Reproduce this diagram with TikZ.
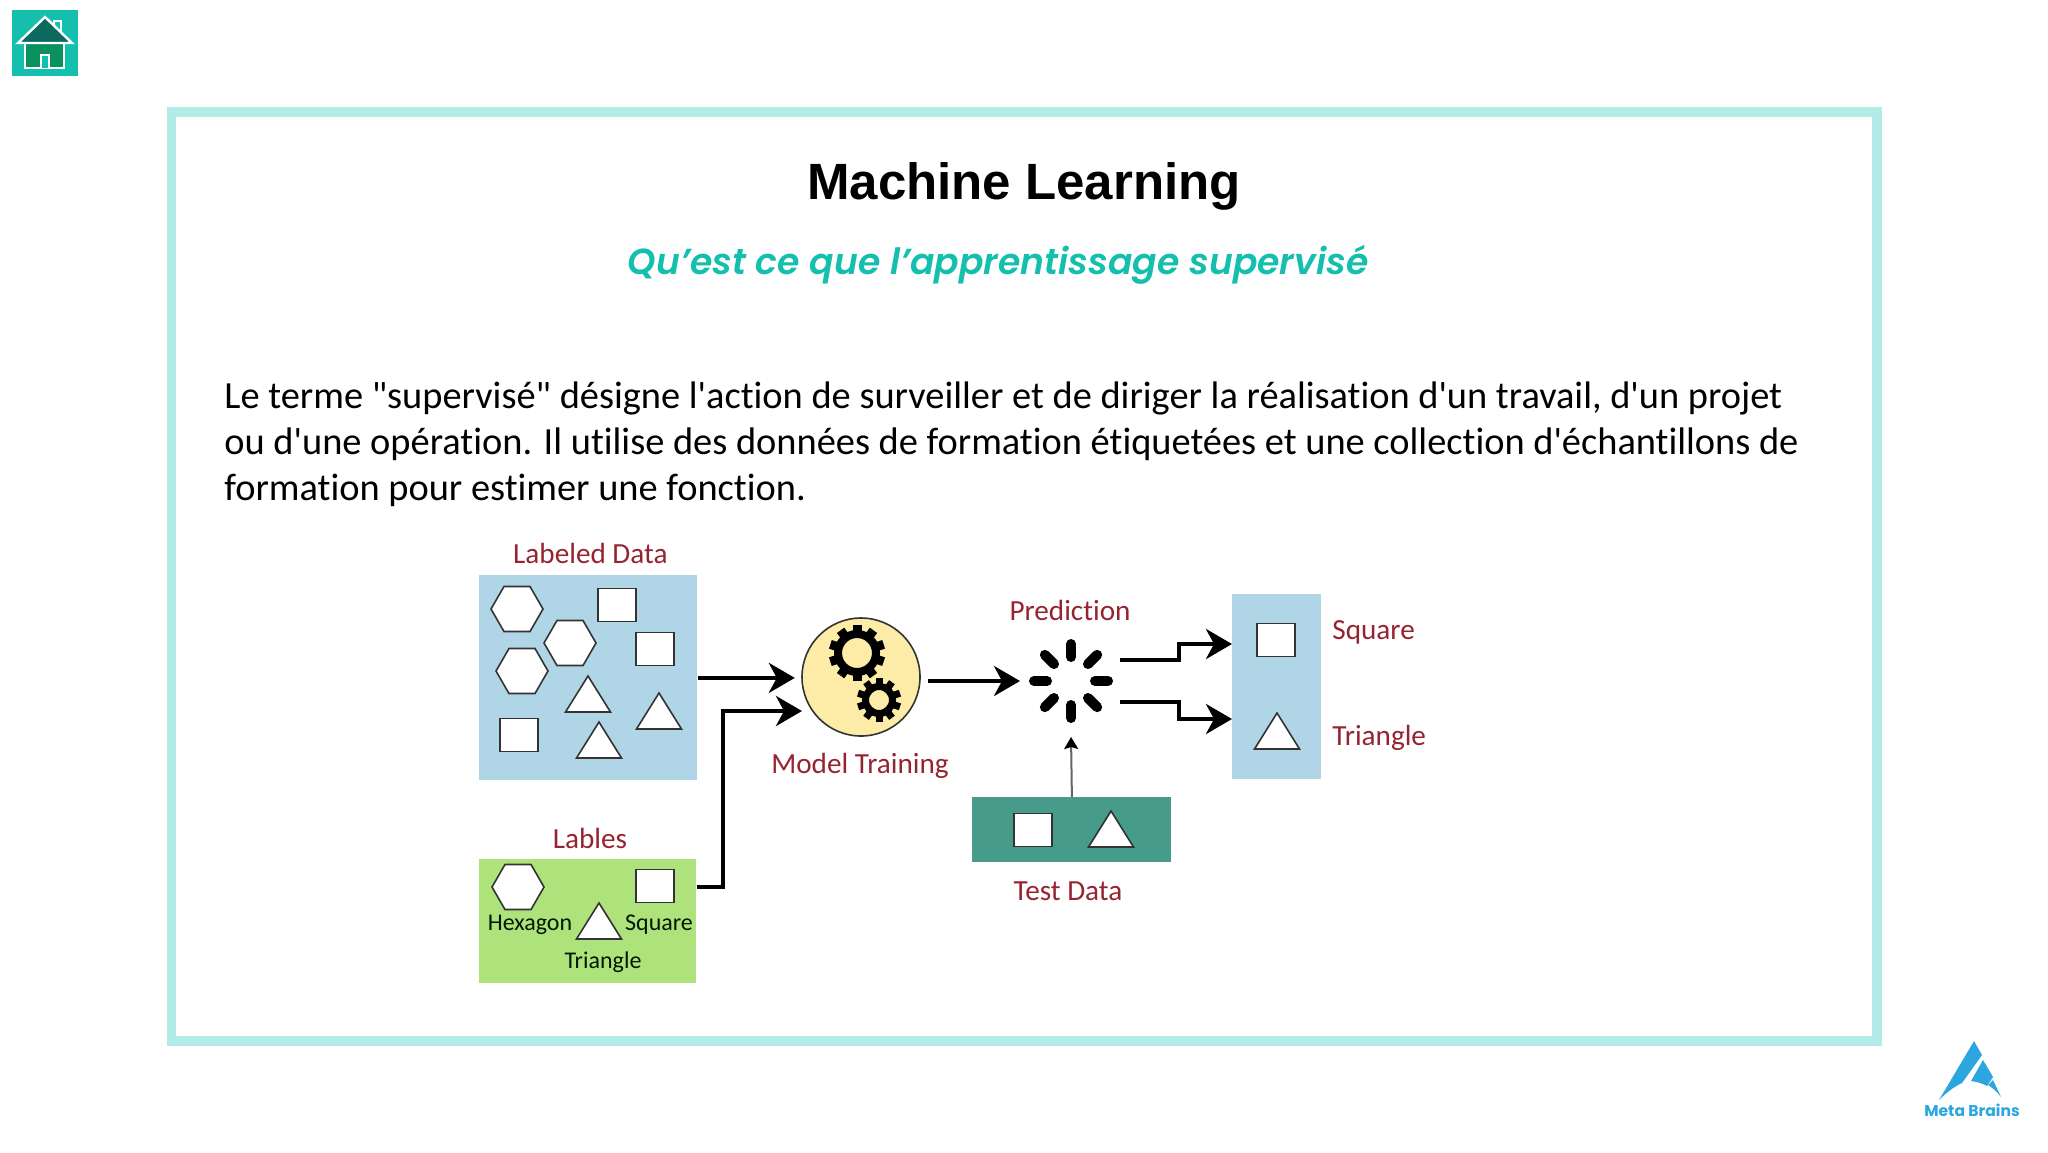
\documentclass[tikz,border=0pt]{standalone}
\usepackage{fontspec}
\setmainfont{Carlito}
\newfontfamily\bodyfont{Carlito}[Ligatures=NoCommon]
\newfontfamily\titlefont{Liberation Sans}
\newfontfamily\subtitlefont{Poppins}[BoldItalicFont={Poppins SemiBold Italic}]
\usetikzlibrary{shapes.geometric,positioning,calc,arrows.meta}
\definecolor{framemint}{HTML}{B2ECE6}
\definecolor{teal}{HTML}{14BFAE}
\definecolor{labelred}{HTML}{952430}
\definecolor{boxblue}{HTML}{B0D5E6}
\definecolor{boxgreen}{HTML}{AEE37C}
\definecolor{boxsea}{HTML}{469B8A}
\definecolor{modelyellow}{HTML}{FDEBA8}
\definecolor{logoblue}{HTML}{2BA6DE}
\tikzset{
  redlabel/.style={text=labelred,font=\bodyfont\fontsize{14.6}{16}\selectfont,inner sep=0pt},
  keylabel/.style={text=black!75!green!40!black,font=\bodyfont\fontsize{12}{14}\selectfont,inner sep=0pt},
  sqshape/.style={draw=black!80,line width=0.8pt,fill=white,minimum width=19pt,minimum height=16.5pt,inner sep=0pt},
  hexshape/.style={draw=black!80,line width=0.8pt,fill=white,regular polygon,regular polygon sides=6,minimum size=26pt,inner sep=0pt},
  trishape/.style={draw=black!80,line width=0.8pt,fill=white,line join=miter},
  databox/.style={inner sep=0pt,anchor=north west},
  flow/.style={line width=2pt,-{Stealth[length=13pt,width=15pt,inset=4pt]}},
}
\begin{document}
\begin{tikzpicture}[x=0.5pt,y=-0.5pt]
\useasboundingbox (0,0) rectangle (2048,1152);
% frame and corner marks
\draw[framemint,line width=4.75pt] (171.5,112) rectangle (1877,1041);
\fill[teal] (12,10) rectangle (78,76);
\draw[white,line width=1pt,fill=black!35!teal!85!green] (25,43) rectangle (64,68);
\draw[white,line width=1pt,fill=teal] (41,68) -- (41,55) -- (49,55) -- (49,68);
\draw[white,line width=1pt,fill=teal] (54,30) -- (54,21) -- (61,21) -- (61,33);
\draw[white,line width=1.2pt,fill=black!45!teal] (18,43) -- (45,17) -- (72,43) -- cycle;
\fill[logoblue] (1974,1041) -- (1982,1055) -- (1962,1083) .. controls (1953,1087) and (1945,1094) .. (1939,1100) -- cycle;
\fill[logoblue] (1983,1060) -- (1993,1077) -- (1987,1086) .. controls (1982,1083) and (1977,1082) .. (1971,1081) -- cycle;
\fill[logoblue] (1993,1080) -- (2001,1097) .. controls (1997,1092) and (1993,1088) .. (1988,1085) -- cycle;
\node[text=logoblue,font=\subtitlefont\bfseries\fontsize{7.8}{10}\selectfont,inner sep=0pt] (brand) at (1972,1110) {Meta Brains};
% heading
\node[font=\titlefont\bfseries\fontsize{25.5}{30}\selectfont,inner sep=0pt] (title) at (1024,186) {Machine Learning};
\node[text=teal,font=\subtitlefont\bfseries\itshape\fontsize{18.1}{22}\selectfont,inner sep=0pt] (subtitle) at (998,265) {Qu’est ce que l’apprentissage supervisé};
\node[anchor=north west,align=left,inner sep=0pt,font=\bodyfont\fontsize{19.2}{23}\selectfont] (body) at (224,381) {Le terme "supervisé" désigne l'action de surveiller et de diriger la réalisation d'un travail, d'un projet\\
ou d'une opération. Il utilise des données de formation étiquetées et une collection d'échantillons de\\
formation pour estimer une fonction.};
% data boxes
\node[databox,fill=boxblue,minimum width=109pt,minimum height=102.5pt] (labeled) at (479,575) {};
\node[databox,fill=boxgreen,minimum width=108.5pt,minimum height=62pt] (lables) at (479,859) {};
\node[databox,fill=boxsea,minimum width=99.5pt,minimum height=32.5pt] (testdata) at (972,797) {};
\node[databox,fill=boxblue,minimum width=44.5pt,minimum height=92.5pt] (result) at (1232,594) {};
\foreach \hx/\hy/\hname in {517/609/a,570/643/b,522/671/c,518/887/d}
  \node[hexshape] (hex\hname) at (\hx,\hy) {};
\foreach \sx/\sy/\sname in {617/605/a,655/649/b,519/735/c,655/886/d,1033/830/e,1276/640/f}
  \node[sqshape] (sq\sname) at (\sx,\sy) {};
\foreach \tx/\ty in {588/676,659/693,599/722,599/903,1111/811,1277/713}
  \draw[trishape] (\tx,\ty) -- ++(22.5,36) -- ++(-45,0) -- cycle;
% labels
\node[redlabel,above=5.5pt of labeled,xshift=1pt] (labeledtxt) {Labeled Data};
\node[redlabel,above=5pt of lables,xshift=1pt] (lablestxt) {Lables};
\node[redlabel] (modeltxt) at (860,766) {Model Training};
\node[redlabel] (predtxt) at (1070,610) {Prediction};
\node[redlabel] (testtxt) at (1068,891) {Test Data};
\node[redlabel,anchor=west] (squaretxt) at (1332,632) {Square};
\node[redlabel,anchor=west] (triangletxt) at (1332,738) {Triangle};
\node[keylabel] (hexagontxt) at (530,925) {Hexagon};
\node[keylabel] (squarekey) at (659,925) {Square};
\node[keylabel] (trianglekey) at (603,962) {Triangle};
% model circle and gears
\node[circle,draw=black!80,line width=0.8pt,fill=modelyellow,minimum size=59pt,inner sep=0pt] (model) at (861,677) {};
\foreach \gx/\gy/\grad/\gwid/\tip/\twid in {857/653/23/8/28/4.5,879/700/17/7/22/3.5}{
  \draw[line width=\gwid*0.5pt] (\gx,\gy) circle (\grad-\gwid/2);
  \foreach \ang in {18,54,...,342}
    \draw[line width=\twid pt] ($(\gx,\gy)+(\ang:\grad-3)$) -- ($(\gx,\gy)+(\ang:\tip)$);
}
% spinner
\coordinate (spinner) at (1071,681);
\foreach \ang in {0,45,...,315}
  \draw[line width=5pt,line cap=round] ($(spinner)+(\ang:24)$) -- ($(spinner)+(\ang:37)$);
% connectors
\coordinate (labelsout) at ($(lables.north east)+(0,28)$);
\coordinate (modelin) at (802,711);
\coordinate (trainout) at (928,681);
\coordinate (predin) at (1020,681);
\coordinate (predup) at (1120,660);
\coordinate (preddown) at (1120,702);
\coordinate (resultup) at (1232,644);
\coordinate (resultdown) at (1232,719);
\coordinate (testin) at (1071,737);
\draw[flow] (labeled.east) -- ($(labeled.east)+(97,0)$);
\draw[flow] (labelsout) -- ++(26,0) |- (modelin);
\draw[flow] (trainout) -- (predin);
\draw[flow] (predup) -- ++(59,0) |- (resultup);
\draw[flow] (preddown) -- ++(59,0) |- (resultdown);
\draw[black!60,line width=1pt,-{Stealth[black,length=6pt,width=7pt,inset=1pt]}] (testdata.north) -- (testin);
\end{tikzpicture}
\end{document}
